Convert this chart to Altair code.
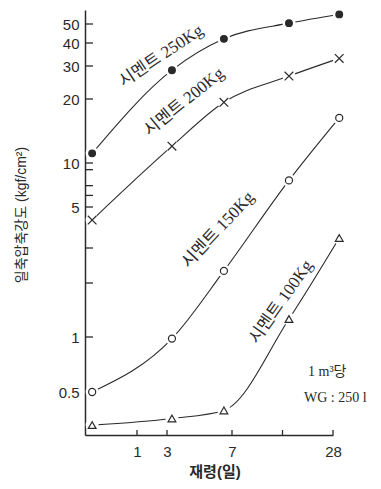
import altair as alt
import pandas as pd

# ---- data ----
ages = [0.55, 3.2, 6.3, 15.3, 30.5]           # 재령 (일)
s250 = [11.1, 28.5, 42, 50.5, 56]
s200 = [4.25, 12, 19.3, 26.5, 33]
s150 = [0.5, 0.98, 2.3, 7.6, 16.3]
s100 = [0.32, 0.35, 0.39, 1.26, 3.4]
series_names = ["시멘트 250Kg", "시멘트 200Kg", "시멘트 150Kg", "시멘트 100Kg"]

x_labels = [1, 3, 7, 28]
x_ticks = [1, 3, 7, 14, 28]
y_labels = [0.5, 1, 5, 10, 20, 30, 40, 50]
y_ticks = [0.5, 1, 2, 3, 5, 6, 7, 9, 10, 20, 30, 40, 50]

# hand-drawn axes -> piecewise scales
x_knots = [0.5, 1, 3, 7, 28]
x_px = [0, 52, 82, 147, 248]
y_knots = [0.28, 0.5, 1, 2, 3, 5, 10, 20, 30, 40, 50, 59]
y_px = [425, 382, 327, 273, 238, 197, 153, 89, 56, 33, 14, 0]

W, H = 248, 425
INK = "#2a2a2a"
SANS = "Liberation Sans, Noto Sans CJK KR"
SERIF = "Liberation Serif, Noto Sans CJK KR"

xscale = alt.Scale(type="log", domain=x_knots, range=x_px, nice=False)
yscale = alt.Scale(type="log", domain=y_knots, range=y_px, nice=False)

xaxis = alt.Axis(values=x_labels, format="d", ticks=False, grid=False, title=None,
                 domainColor=INK, domainWidth=1.5, labelFont=SANS, labelFontSize=15,
                 labelColor=INK, labelPadding=9, labelFlush=False, labelOverlap=False)
yaxis = alt.Axis(values=y_labels, format="~g", ticks=False, grid=False, title=None,
                 domainColor=INK, domainWidth=1.5, labelFont=SANS, labelFontSize=15,
                 labelColor=INK, labelPadding=6, labelFlush=False, labelOverlap=False)

rows = []
for name, vals in zip(series_names, [s250, s200, s150, s100]):
    for a, v in zip(ages, vals):
        rows.append({"series": name, "age": a, "val": v})
df = pd.DataFrame(rows)

X = alt.X("age:Q", scale=xscale, axis=xaxis)
Y = alt.Y("val:Q", scale=yscale, axis=yaxis)

layers = []

# inward ticks
ytick_df = pd.DataFrame({"val": y_ticks})
layers.append(alt.Chart(ytick_df).mark_rule(color=INK, strokeWidth=1.3).encode(
    y=Y, x=alt.value(0), x2=alt.value(8)))
xtick_df = pd.DataFrame({"age": x_ticks})
layers.append(alt.Chart(xtick_df).mark_rule(color=INK, strokeWidth=1.3).encode(
    x=X, y=alt.value(H), y2=alt.value(H - 5)))

markers = {
    "시멘트 250Kg": dict(shape="circle", filled=True, fill=INK, size=45),
    "시멘트 200Kg": dict(shape="M-1,-1L1,1M1,-1L-1,1", filled=False, fill=None, size=75),
    "시멘트 150Kg": dict(shape="circle", filled=True, fill="white", size=50),
    "시멘트 100Kg": dict(shape="triangle-up", filled=True, fill="white", size=60),
}

for name in series_names:
    sdf = df[df.series == name]
    layers.append(alt.Chart(sdf).mark_line(interpolate="monotone", color=INK,
                                           strokeWidth=1.1).encode(x=X, y=Y))
for name in series_names:
    sdf = df[df.series == name]
    layers.append(alt.Chart(sdf).mark_point(shape="circle", filled=True, fill="white",
                                            strokeWidth=0, size=170, opacity=1).encode(x=X, y=Y))
    m = markers[name]
    if m["filled"]:
        mk = alt.Chart(sdf).mark_point(shape=m["shape"], filled=True, fill=m["fill"],
                                       stroke=INK, strokeWidth=1.2, size=m["size"], opacity=1)
    else:
        mk = alt.Chart(sdf).mark_point(shape=m["shape"], filled=False, stroke=INK,
                                       strokeWidth=1.2, size=m["size"], opacity=1)
    layers.append(mk.encode(x=X, y=Y))

# curve labels
label_pos = [(76, 46, 326), (99, 92, 321), (133, 220, 313), (196, 292, 305)]
for name, (lx, ly, ang) in zip(series_names, label_pos):
    layers.append(alt.Chart(pd.DataFrame({"t": [name]})).mark_text(
        angle=ang, font=SERIF, fontSize=17, color=INK, align="center", baseline="middle"
    ).encode(x=alt.value(lx), y=alt.value(ly), text="t:N"))

# annotations and titles
notes = [("1 m³당", 223, 362, SERIF, 14, "normal", 0, "left"),
         ("WG : 250 l", 219, 388, SERIF, 14, "normal", 0, "left"),
         ("일축압축강도 (kgf/cm²)", -63, 205, SANS, 14, "normal", 270, "center"),
         ("재령(일)", 130, 462, SANS, 15, "bold", 0, "center")]
for t, nx, ny, f, fs, fw, ang, al in notes:
    layers.append(alt.Chart(pd.DataFrame({"t": [t]})).mark_text(
        font=f, fontSize=fs, fontWeight=fw, angle=ang, color=INK, align=al, baseline="middle"
    ).encode(x=alt.value(nx), y=alt.value(ny), text="t:N"))

chart = alt.layer(*layers).properties(
    width=W, height=H, autosize="none",
    padding={"left": 85, "top": 10, "right": 48, "bottom": 54},
    background="white",
).configure_view(stroke=None)

chart.save("out.html", embed_options={"renderer": "svg", "actions": False})
